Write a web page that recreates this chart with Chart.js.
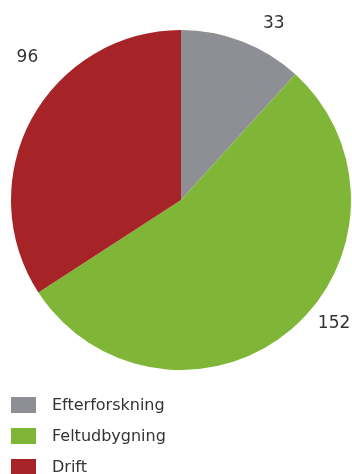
<!DOCTYPE html>
<html>
<head>
<meta charset="utf-8">
<script src="https://cdn.jsdelivr.net/npm/chart.js@4/dist/chart.umd.min.js"></script>
<style>
  html, body { margin: 0; padding: 0; background: #fff; }
  #wrap { position: relative; width: 352px; height: 474px; }
  #legend { position: absolute; left: 11px; top: 397px; font-family: "DejaVu Sans", sans-serif; font-size: 16px; color: #333; }
  #legend div { height: 31px; display: flex; align-items: flex-start; }
  #legend span.box { display: inline-block; width: 25px; height: 16px; margin-right: 16px; }
  #legend span.txt { line-height: 16px; }
</style>
</head>
<body>
<div id="wrap">
  <canvas id="pie" width="352" height="474"></canvas>
  <div id="legend"></div>
</div>
<script>
var labels = ['Efterforskning', 'Feltudbygning', 'Drift'];
var values = [33, 152, 96];
var colors = ['rgb(142, 143, 148)', 'rgb(128, 182, 56)', 'rgb(166, 35, 39)'];

// where the value labels sit: angle shift (deg) from slice middle, distance from centre
var labelPos = [
  {shift: 6.5, dist: 200},
  {shift: -11, dist: 196},
  {shift: 14.5, dist: 210}
];

const valueLabels = {
  id: 'valueLabels',
  afterDatasetsDraw(chart) {
    var ctx = chart.ctx;
    var meta = chart.getDatasetMeta(0);
    ctx.save();
    ctx.font = '17px "DejaVu Sans", sans-serif';
    ctx.fillStyle = '#333';
    ctx.textAlign = 'center';
    ctx.textBaseline = 'middle';
    meta.data.forEach(function (arc, i) {
      var mid = (arc.startAngle + arc.endAngle) / 2 + labelPos[i].shift * Math.PI / 180;
      var x = arc.x + Math.cos(mid) * labelPos[i].dist;
      var y = arc.y + Math.sin(mid) * labelPos[i].dist;
      ctx.fillText(String(values[i]), x, y + 1);
    });
    ctx.restore();
  }
};

var ctx = document.getElementById('pie').getContext('2d');
var myChart = new Chart(ctx, {
  type: 'pie',
  data: {
    labels: labels,
    datasets: [{
      data: values,
      backgroundColor: colors,
      borderWidth: 0
    }]
  },
  options: {
    responsive: false,
    animation: false,
    layout: { padding: { left: 11, right: 1, top: 30, bottom: 104 } },
    plugins: {
      legend: { display: false },
      tooltip: { enabled: false }
    }
  },
  plugins: [valueLabels]
});

var legend = document.getElementById('legend');
labels.forEach(function (l, i) {
  var row = document.createElement('div');
  row.innerHTML = '<span class="box" style="background:' + colors[i] + '"></span><span class="txt">' + l + '</span>';
  legend.appendChild(row);
});
</script>
</body>
</html>
